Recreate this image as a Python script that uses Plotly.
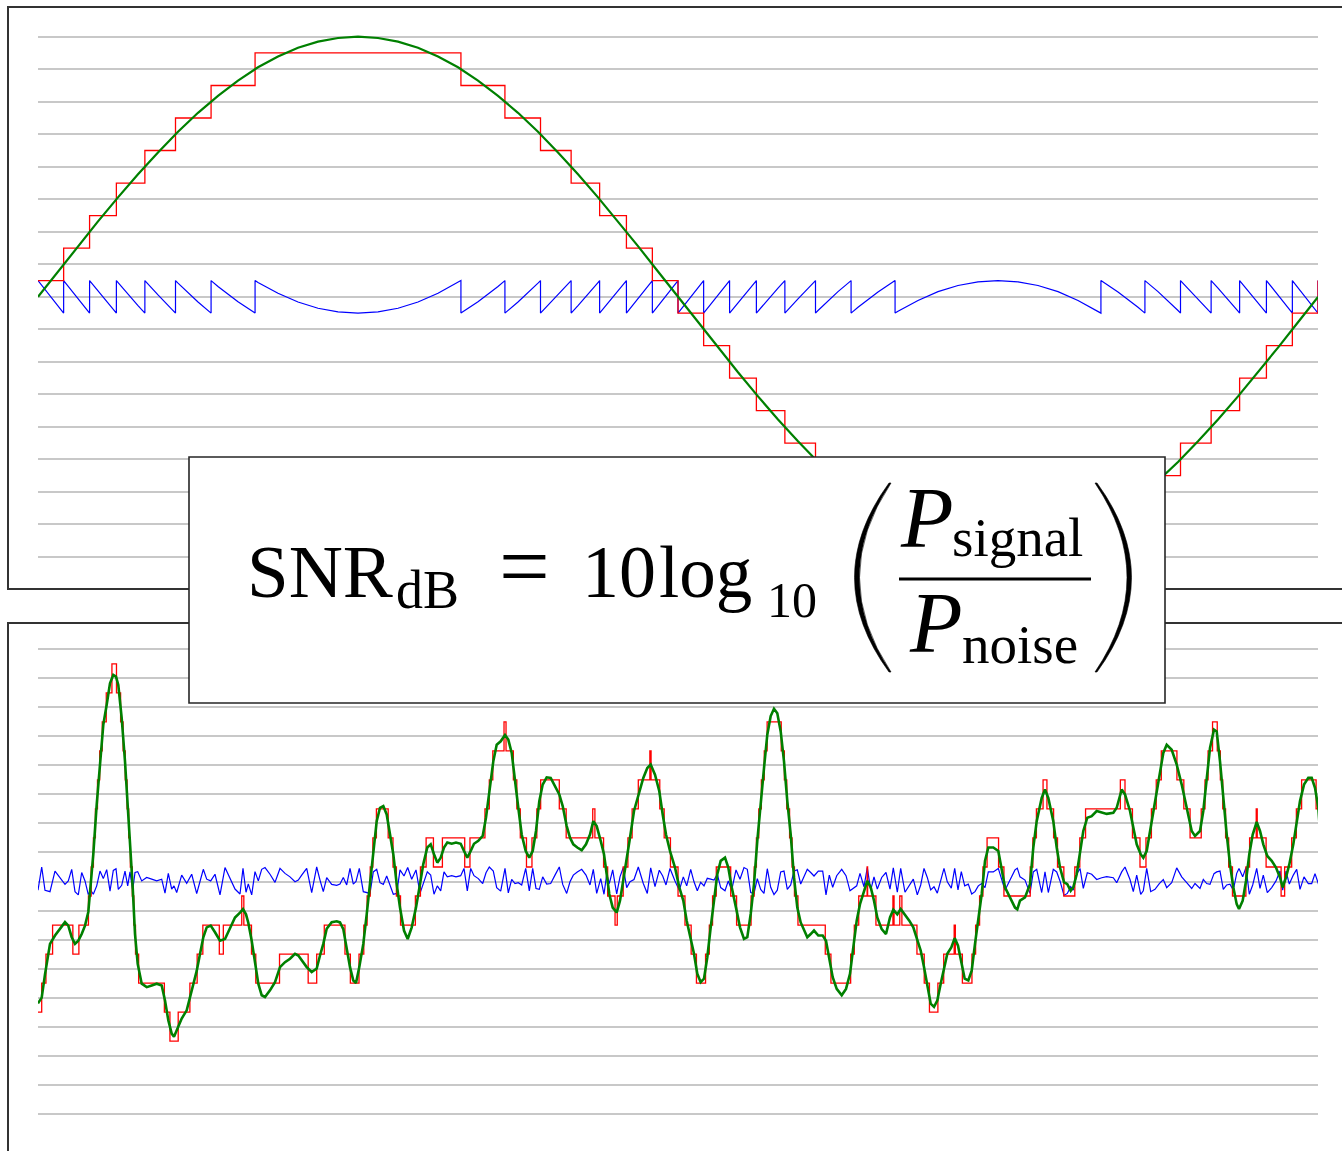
import numpy as np
import plotly.graph_objects as go

W, H = 1342, 1151

# ---------------- data ----------------
# quantiser grid levels (decision thresholds), in quantisation steps
grid_levels = list(range(-8, 9))
q_lo, q_hi = -7.5, 7.5  # lowest / highest reconstruction level

# top panel: one period of a full-scale tone, sample index -> amplitude (steps)
tone_t = list(range(0, 1281, 20))
tone_v = [0, 0.78, 1.56, 2.32, 3.06, 3.77, 4.44, 5.08, 5.66, 6.18, 6.65, 7.06, 7.39, 7.66, 7.85, 7.96, 8.00,
          7.96, 7.85, 7.66, 7.39, 7.06, 6.65, 6.18, 5.66, 5.08, 4.44, 3.77, 3.06, 2.32, 1.56, 0.78, 0,
          -0.78, -1.56, -2.32, -3.06, -3.77, -4.44, -5.08, -5.66, -6.18, -6.65, -7.06, -7.39, -7.66, -7.85, -7.96, -8.00,
          -7.96, -7.85, -7.66, -7.39, -7.06, -6.65, -6.18, -5.66, -5.08, -4.44, -3.77, -3.06, -2.32, -1.56, -0.78, 0]

# bottom panel: band-limited noise-like signal, sample index -> amplitude (steps)
sig_t = [0, 3.7, 7, 12, 17, 22, 27, 30.3, 33.7, 37, 40.3, 43.7, 47, 50.3, 52.7, 55.3, 58.7, 62, 65.3, 68.7,
         72, 75.3, 78, 80.3, 83.7, 87, 89.7, 92, 94.7, 97, 99.7, 103.7, 108.7, 113.7, 118.7, 123.7, 127, 130.3,
         133.7, 136, 138.7, 143.7, 148.7, 153.7, 158.7, 162, 165.3, 168.7, 172.7, 177, 182, 187, 192, 197, 202,
         205, 208, 210.3, 213.7, 217, 220.3, 223.7, 227, 232, 237, 242, 247, 252, 257, 260.3, 263.7, 268.7,
         273.7, 278.7, 282, 285.3, 288.7, 293.7, 298.7,
         302, 305.3, 308.7, 312, 315.3, 318, 321.3, 325.3, 328.7, 332, 335.3, 338.7, 342, 345.3, 348.7, 352,
         355.3, 358.7, 362, 366, 369.7, 373.7, 378, 382, 385.3, 389.3, 392.7, 396, 399.3, 402.7, 406, 409.3,
         413.7, 418, 422.7, 426, 429.3, 432.7, 436, 440.3, 444.7, 448, 451.3, 455.3, 458.7, 462.7, 467, 470.3,
         473.7, 477, 480.3, 483.7, 487.7, 491.3, 494.7, 498, 501.3, 504.7, 508.7, 512.7, 517, 521.3, 524.7,
         528.7, 532, 535.3, 539.3, 543.7, 548, 552, 555.3, 558.7, 562.7, 566, 568.7, 571.3, 574.7, 578.7, 582,
         585.3, 588.7, 592, 596, 600.3, 605.3, 609.3, 612.7, 617, 621.3, 624.7, 628, 632,
         637, 641.3, 645.3, 648.7, 652.7, 656, 659.3, 662.7, 666, 669.3, 672.7, 676, 679.3, 682.7, 687, 690.3,
         693.7, 698, 702, 706, 709.3, 712.7, 716, 719.3, 722.7, 726, 729.3, 732.7, 736, 739.3, 742.7, 746,
         749.3, 752.7, 756, 759.3, 762.7, 766, 769.3, 772.7, 776, 780.3, 784.7, 788, 791.3, 794.7, 798.7, 803.7,
         808, 812, 815.3, 818.7, 822, 826, 829.3, 832.7, 836, 839.3, 843.7, 848, 852, 855.3, 859.3, 862.7, 867,
         871.3, 875.3, 879.3, 882.7, 886, 889.3, 892.7, 896, 899.3, 902.7, 906, 909.3, 913.3, 916.7, 920, 923.3,
         926.7, 930.3, 933.7, 937, 940.3, 943.7, 947, 950.3, 955.3, 960.3,
         967, 972, 977, 979.3, 982, 987, 992, 995.3, 998.7, 1003.7, 1007, 1010.3, 1015.3, 1018.7, 1022, 1026,
         1029.3, 1032.7, 1035.3, 1038.7, 1042, 1045.3, 1049.3, 1053.7, 1058.7, 1063.7, 1068.7, 1075.3, 1078.7,
         1083.7, 1087, 1092, 1095.3, 1098.7, 1102.7, 1105.3, 1108.7, 1112.7, 1117, 1121.3, 1125.3, 1128.7,
         1133.7, 1138.7, 1143.7, 1148.7, 1153.7, 1157, 1162, 1165.3, 1168.7, 1172, 1176, 1178.7, 1182, 1185.3,
         1188.7, 1192, 1195.3, 1198.7, 1201, 1204.7, 1208, 1211.3, 1214.7, 1218.7, 1222, 1225.3, 1229.3, 1233.7,
         1238, 1242, 1244.7, 1248, 1251.3, 1255.3, 1258.7, 1262, 1266, 1270.3, 1273.7, 1277, 1280.3, 1282]
sig_v = [-4.2, -4.0, -3.2, -2.15, -1.86, -1.63, -1.4, -1.52, -1.92, -2.15, -2.04, -1.81, -1.52, -1.05, -0.2, 0.94,
         2.65, 4.14, 5.4, 6.09, 6.83, 7.12, 7.06, 6.77, 5.63, 4.14, 2.65, 1.17, -0.2, -1.81, -2.84, -3.52, -3.64,
         -3.58, -3.52, -3.58, -4.1, -4.78, -5.24, -5.35, -5.12, -4.72, -4.44, -3.75, -3.08, -2.5, -1.92, -1.58,
         -1.52, -1.75, -2.04, -1.98, -1.63, -1.24, -1.07, -0.95, -1.13, -1.42, -2.04, -2.84, -3.52, -3.92, -3.98,
         -3.75, -3.47, -2.95, -2.78, -2.66, -2.49, -2.55, -2.72, -2.95, -3.12, -3.0, -2.55, -2.15, -1.63, -1.4,
         -1.37,
         -1.41, -1.64, -2.38, -2.95, -3.41, -3.5, -2.95, -2.15, -1.13, -0.09, 1.17, 2.08, 2.54, 2.6, 2.31, 1.62,
         0.94, -0.09, -0.9, -1.69, -1.98, -1.58, -0.9, -0.09, 0.6, 1.17, 1.28, 0.94, 0.65, 0.82, 1.17, 1.34,
         1.3, 1.34, 1.3, 1.05, 0.82, 1.05, 1.3, 1.4, 1.57, 2.2, 3.0, 4.14, 4.71, 4.83, 5.05, 4.89,
         4.43, 3.57, 2.54, 1.62, 1.05, 0.82, 1.05, 1.74, 2.77, 3.34, 3.59, 3.57, 3.28, 3.0, 2.6,
         1.91, 1.51, 1.28, 1.17, 1.08, 1.28, 1.62, 2.08, 1.91, 1.4, 0.94, 0.25, -0.43, -0.9, -1.07, -0.66,
         0.02, 0.71, 1.51, 2.43, 3.0, 3.57, 3.91, 4.03, 3.68, 3.11, 2.31, 1.62, 1.05,
         0.48, -0.2, -0.66, -1.35, -1.92, -2.49, -3.18, -3.47, -3.35, -2.61, -1.58, -0.55, 0.25, 0.71, 0.82, 0.48,
         -0.2, -0.9, -1.58, -1.98, -1.92, -1.12, -0.09, 1.4, 2.77, 3.91, 5.06, 5.7, 5.95, 5.8, 5.17, 4.14,
         2.77, 1.62, 0.14, -0.9, -1.41, -1.69, -1.92, -1.81, -1.69, -1.86, -1.86, -2.04, -2.72, -3.3, -3.7, -3.92,
         -3.7, -3.18, -2.27, -1.35, -0.78, -0.32, 0.02, -0.2, -0.66, -1.24, -1.64, -1.81, -1.24, -0.97, -1.13, -0.95, -1.13,
         -1.35, -1.58, -2.04, -2.38, -2.95, -3.64, -4.21, -4.32, -4.1, -3.52, -2.95, -2.49, -2.27, -1.95, -2.21, -2.84,
         -3.35, -3.41, -3.07, -2.15, -1.35, -0.43, 0.71, 1.17, 1.17, 1.05,
         -0.2, -0.55, -0.9, -0.96, -0.66, -0.55, -0.09, 1.17, 2.08, 2.88, 3.17, 2.88, 2.08, 1.17, 0.48, -0.02,
         -0.09, -0.32, -0.2, 0.25, 1.05, 1.74, 2.2, 2.25, 2.43, 2.37, 2.33, 2.37, 2.54,
         3.17, 3.0, 2.43, 1.85, 1.28, 0.94, 0.82, 1.05, 1.85, 2.77, 3.57, 4.43, 4.71,
         4.54, 4.03, 3.34, 2.54, 1.74, 1.57, 1.74, 2.43, 3.57, 4.6, 5.23, 5.17, 4.14, 2.77,
         1.62, 0.59, -0.2, -0.78, -0.95, -0.66, 0.02, 0.94, 1.62, 2.05, 1.74, 1.28, 0.88, 0.71,
         0.48, 0.14, -0.2, 0.14, 0.59, 1.28, 2.08, 2.77, 3.34, 3.57, 3.57, 3.23, 2.54, 1.74]


# ------------- quantiser (mid-rise, unit step) -------------
def qlevel(x):
    return float(min(max(np.floor(x) + 0.5, q_lo), q_hi))


def quantise(t, v):
    """Quantised staircase and error (q - s) of the polyline (t, v), split at the threshold crossings."""
    rt, rv, et, ev = [t[0]], [qlevel(v[0])], [t[0]], [qlevel(v[0]) - v[0]]
    for i in range(1, len(t)):
        a, b, ta, tb = v[i - 1], v[i], t[i - 1], t[i]
        if b > a:
            ks = range(int(np.floor(a)) + 1, int(np.floor(b)) + 1)
            pairs = [(k, qlevel(k - 1e-9), qlevel(k)) for k in ks]
        elif b < a:
            ks = range(int(np.floor(a)), int(np.floor(b)), -1)
            pairs = [(k, qlevel(k), qlevel(k - 1e-9)) for k in ks if k > b]
        else:
            pairs = []
        for k, q0, q1 in pairs:
            if q0 == q1:
                continue
            tc = ta + (k - a) / (b - a) * (tb - ta)
            rt += [tc, tc]
            rv += [q0, q1]
            et += [tc, tc]
            ev += [q0 - k, q1 - k]
        q = qlevel(b)
        rt.append(tb)
        rv.append(q)
        et.append(tb)
        ev.append(q - b)
    return rt, rv, et, ev


GREEN, RED, BLUE = "#008000", "#ff0000", "#0000ff"

fig = go.Figure()

# top: tone, its staircase and the (sawtooth) quantisation error
rt, rv, et, ev = quantise(tone_t, tone_v)
fig.add_trace(go.Scatter(x=et, y=ev, mode="lines", line=dict(color=BLUE, width=1.2),
                         xaxis="x", yaxis="y", hoverinfo="skip"))
fig.add_trace(go.Scatter(x=rt, y=rv, mode="lines", line=dict(color=RED, width=1.3),
                         xaxis="x", yaxis="y", hoverinfo="skip"))
fig.add_trace(go.Scatter(x=tone_t, y=tone_v, mode="lines", line=dict(color=GREEN, width=2.2),
                         xaxis="x", yaxis="y", hoverinfo="skip"))

# bottom: noise signal, staircase, and the error taken at the signal's samples
rt, rv, _, _ = quantise(sig_t, sig_v)
sig_err = [qlevel(v) - v for v in sig_v]
fig.add_trace(go.Scatter(x=sig_t, y=sig_err, mode="lines", line=dict(color=BLUE, width=1.2),
                         xaxis="x2", yaxis="y2", hoverinfo="skip"))
fig.add_trace(go.Scatter(x=rt, y=rv, mode="lines", line=dict(color=RED, width=1.3),
                         xaxis="x2", yaxis="y2", hoverinfo="skip"))
fig.add_trace(go.Scatter(x=sig_t, y=sig_v, mode="lines", line=dict(color=GREEN, width=2.6),
                         xaxis="x2", yaxis="y2", hoverinfo="skip"))


def P(x):
    return x / W


def Q(y):
    return 1 - y / H


xdom = [P(38), P(1318)]
ygrid = dict(showgrid=True, gridcolor="#c8c8c8", gridwidth=1.6, tickvals=grid_levels,
             showticklabels=False, ticks="", zeroline=False, showline=False, range=[-9, 9], fixedrange=True)
xcommon = dict(visible=False, range=[0, 1280], fixedrange=True)

fig.update_layout(
    width=W, height=H, margin=dict(l=0, r=0, t=0, b=0, pad=0),
    paper_bgcolor="white", plot_bgcolor="rgba(0,0,0,0)", showlegend=False,
    xaxis=dict(domain=xdom, anchor="y", **xcommon),
    yaxis=dict(domain=[Q(589.5), Q(4.2)], anchor="x", **ygrid),
    xaxis2=dict(domain=xdom, anchor="y2", **xcommon),
    yaxis2=dict(domain=[Q(1142.7), Q(620.3)], anchor="x2", **ygrid),
)

shapes = [
    dict(type="rect", xref="paper", yref="paper", x0=P(8), x1=1.05, y0=Q(589), y1=Q(7),
         line=dict(color="#333333", width=2), fillcolor="rgba(0,0,0,0)", layer="below"),
    dict(type="rect", xref="paper", yref="paper", x0=P(8), x1=1.05, y0=-0.05, y1=Q(623),
         line=dict(color="#333333", width=2), fillcolor="rgba(0,0,0,0)", layer="below"),
    # formula box
    dict(type="rect", xref="paper", yref="paper", x0=P(189), x1=P(1165), y0=Q(703), y1=Q(457),
         line=dict(color="#262626", width=1.6), fillcolor="white", layer="above"),
    # fraction bar
    dict(type="line", xref="paper", yref="paper", x0=P(899), x1=P(1091), y0=Q(579), y1=Q(579),
         line=dict(color="black", width=3), layer="above"),
]


def paren(x_end, x_ctrl_out, x_end_in, x_ctrl_in, y0, y1):
    ym = (y0 + y1) / 2
    return (f"M {P(x_end)},{Q(y0)} Q {P(x_ctrl_out)},{Q(ym)} {P(x_end)},{Q(y1)} "
            f"L {P(x_end_in)},{Q(y1)} Q {P(x_ctrl_in)},{Q(ym)} {P(x_end_in)},{Q(y0)} Z")


for path in [paren(889, 820, 891, 828, 483, 672), paren(1097, 1166, 1095, 1159, 483, 672)]:
    shapes.append(dict(type="path", xref="paper", yref="paper", path=path,
                       fillcolor="black", line=dict(color="black", width=0.6), layer="above"))
fig.update_layout(shapes=shapes)

SERIF = "Liberation Serif"


def ann(text, x, yc, size, xanchor="left"):
    fig.add_annotation(text=text, x=P(x), y=Q(yc), xref="paper", yref="paper",
                       xanchor=xanchor, yanchor="middle", showarrow=False,
                       font=dict(family=SERIF, size=size, color="black"))


ann("SNR", 245, 571.7, 75)
ann("dB", 394, 590.4, 54)
ann("=", 524.5, 566.6, 90, xanchor="center")
ann("10", 580, 572.0, 74)
ann("log", 657, 572.7, 73)
ann("10", 765, 600, 50)
ann("<i>P</i>", 898, 518, 86)
ann("signal", 950, 537.4, 55)
ann("<i>P</i>", 907, 623, 86)
ann("noise", 960, 644.4, 55)

fig.write_html("out.html", config={"displayModeBar": False},
               post_script="document.body.style.margin='0px';document.body.style.overflow='hidden';")
